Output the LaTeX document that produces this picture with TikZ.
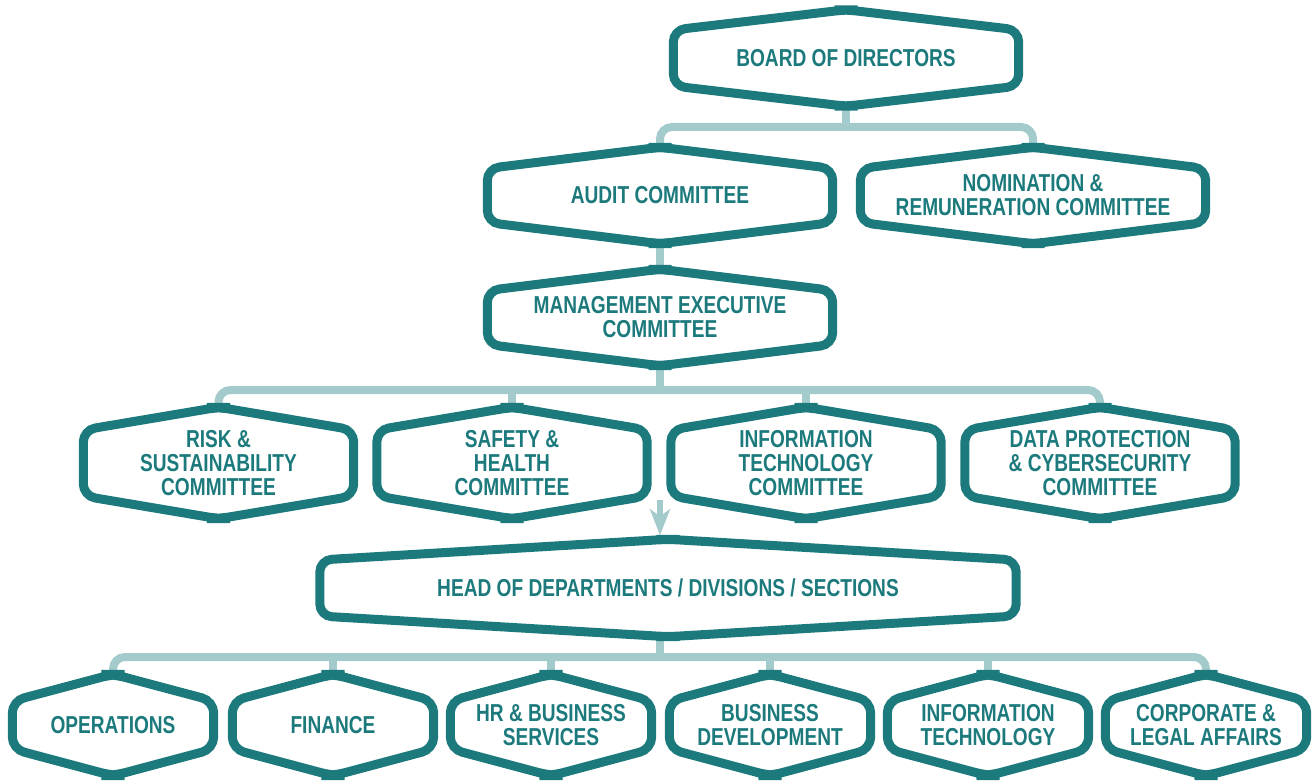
\documentclass[tikz,border=0pt]{standalone}
\usepackage{fontspec}
\setmainfont[FakeStretch=0.78]{Liberation Sans}
\usetikzlibrary{arrows.meta}
\definecolor{tealdark}{HTML}{1C7A7D}
\definecolor{teallight}{HTML}{A3CBCC}
\pgfdeclarelayer{background}
\pgfsetlayers{background,main}

\begin{document}
\begin{tikzpicture}[x=1pt, y=-1pt,
    every node/.style={align=center, text=tealdark, inner sep=0pt,
        font=\fontsize{24.5}{24}\selectfont\bfseries},
    bigbox/.style={minimum width=345pt, minimum height=96pt},
    midbox/.style={minimum width=270pt, minimum height=111pt},
    smallbox/.style={minimum width=201pt, minimum height=101pt},
    widebox/.style={minimum width=696pt, minimum height=97pt},
    hexline/.style={draw=tealdark, fill=white, line width=9pt, rounded corners=12pt},
    link/.style={draw=teallight, line width=8pt, rounded corners=12pt}]
    % Page frame
    \useasboundingbox (0,0) rectangle (1312,781);
    % Board level
    \node[bigbox] (board) at (846,58) {BOARD OF DIRECTORS};
    \node[bigbox] (audit) at (660,195.5) {AUDIT COMMITTEE};
    \node[bigbox] (nomination) at (1033,195.5) {NOMINATION \&\\REMUNERATION COMMITTEE};
    \node[bigbox] (mgmt) at (660,317.5) {MANAGEMENT EXECUTIVE\\COMMITTEE};
    % Committees
    \node[midbox] (risk) at (218.5,463) {RISK \&\\SUSTAINABILITY\\COMMITTEE};
    \node[midbox] (safety) at (512,463) {SAFETY \&\\HEALTH\\COMMITTEE};
    \node[midbox] (itcomm) at (806,463) {INFORMATION\\TECHNOLOGY\\COMMITTEE};
    \node[midbox] (dataprot) at (1100,463) {DATA PROTECTION\\\& CYBERSECURITY\\COMMITTEE};
    % Heads
    \node[widebox] (heads) at (668,588) {HEAD OF DEPARTMENTS / DIVISIONS / SECTIONS};
    % Departments
    \node[smallbox] (ops) at (113,725) {OPERATIONS};
    \node[smallbox] (finance) at (333,725) {FINANCE};
    \node[smallbox] (hrbs) at (551,725) {HR \& BUSINESS\\SERVICES};
    \node[smallbox] (busdev) at (770,725) {BUSINESS\\DEVELOPMENT};
    \node[smallbox] (itdept) at (988,725) {INFORMATION\\TECHNOLOGY};
    \node[smallbox] (legal) at (1206,725) {CORPORATE \&\\LEGAL AFFAIRS};

    % Bus lines
    \coordinate (busA) at (0,127);
    \coordinate (busB) at (0,390);
    \coordinate (busC) at (0,657);
    \coordinate (gap) at (660,500);

    \begin{pgfonlayer}{background}
    % Connectors
    \draw[link] (board.south) -- (board.south |- busA);
    \draw[link] (audit.north) -- (audit.north |- busA) -- (nomination.north |- busA) -- (nomination.north);
    \draw[link] (audit.south) -- (mgmt.north);
    \draw[link] (mgmt.south) -- (mgmt.south |- busB);
    \draw[link] (risk.north) -- (risk.north |- busB) -- (dataprot.north |- busB) -- (dataprot.north);
    \foreach \n in {safety, itcomm}
    {
        \draw[link] (\n.north) -- (\n.north |- busB);
    }
    \draw[draw=teallight, line width=6pt, -{Stealth[length=26pt, width=20pt, inset=7pt]}, shorten >=4pt]
        (gap) -- (gap |- heads.north);
    \draw[link] (heads.south -| gap) -- (gap |- busC);
    \draw[link] (ops.north) -- (ops.north |- busC) -- (legal.north |- busC) -- (legal.north);
    \foreach \n in {finance, hrbs, busdev, itdept}
    {
        \draw[link] (\n.north) -- (\n.north |- busC);
    }
    % Box outlines
    \foreach \n/\s in {board/28, audit/27, nomination/27, mgmt/27,
        risk/33, safety/33, itcomm/33, dataprot/33, heads/28,
        ops/24, finance/24, hrbs/24, busdev/24, itdept/24, legal/24}
    {
        \draw[hexline] ([yshift=\s pt]\n.west) -- ([xshift=-0.5pt]\n.north) -- ([xshift=0.5pt]\n.north)
            -- ([yshift=\s pt]\n.east) -- ([yshift=-\s pt]\n.east)
            -- ([xshift=0.5pt]\n.south) -- ([xshift=-0.5pt]\n.south)
            -- ([yshift=-\s pt]\n.west) -- cycle;
    }
    \end{pgfonlayer}
\end{tikzpicture}
\end{document}
